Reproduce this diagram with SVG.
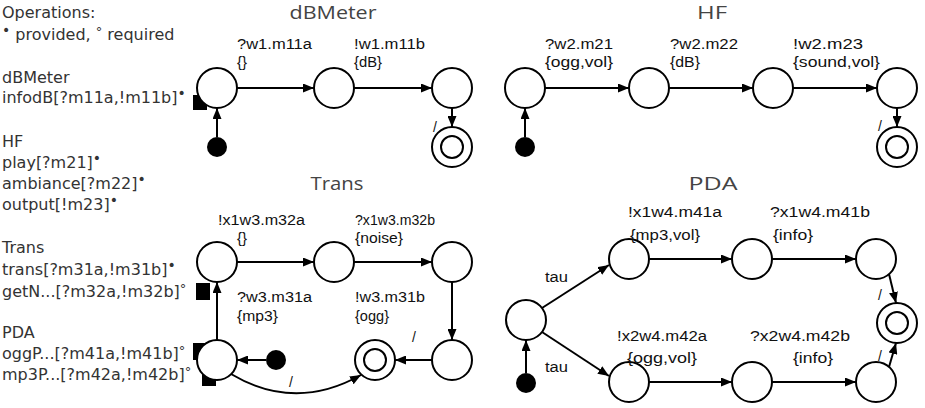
<svg xmlns="http://www.w3.org/2000/svg" width="925" height="408" viewBox="0 0 925 408">
<defs>
<style>
.lt{font-family:"DejaVu Sans",sans-serif;font-size:16px;fill:#333}
.ti{font-family:"Open Sans","DejaVu Sans",sans-serif;font-size:18px;fill:#444}
.lb{font-family:"Liberation Sans",Arial,sans-serif;font-size:14px;fill:#111}
.b{font-size:14px}
.c{font-size:13px}
.st{fill:#fff;stroke:#000;stroke-width:2}
.in{fill:none;stroke:#000;stroke-width:2}
.dot{fill:#000}
.port{fill:#000}
.ed{fill:none;stroke:#000;stroke-width:2;marker-end:url(#ah)}
</style>
<marker id="ah" markerWidth="11" markerHeight="9" refX="11" refY="4.5" orient="auto" markerUnits="userSpaceOnUse">
<path d="M0,0 L11,4.5 L0,9 z" fill="#000"/>
</marker>
</defs>
<rect width="925" height="408" fill="#fff"/>

<g id="legend">
<text class="lt" x="2" y="18">Operations:</text>
<text class="lt" x="2" y="40"><tspan class="b" dy="-5">•</tspan><tspan dy="5"> provided, </tspan><tspan class="c" dy="-4">°</tspan><tspan dy="4"> required</tspan></text>
<text class="lt" x="2" y="83">dBMeter</text>
<text class="lt" x="2" y="103">infodB[?m11a,!m11b]<tspan class="b" dy="-5">•</tspan></text>
<text class="lt" x="2" y="147">HF</text>
<text class="lt" x="2" y="168">play[?m21]<tspan class="b" dy="-5">•</tspan></text>
<text class="lt" x="2" y="189">ambiance[?m22]<tspan class="b" dy="-5">•</tspan></text>
<text class="lt" x="2" y="210">output[!m23]<tspan class="b" dy="-5">•</tspan></text>
<text class="lt" x="2" y="253">Trans</text>
<text class="lt" x="2" y="275">trans[?m31a,!m31b]<tspan class="b" dy="-5">•</tspan></text>
<text class="lt" x="2" y="297">getN...[?m32a,!m32b]<tspan class="c" dy="-4">°</tspan></text>
<text class="lt" x="2" y="338">PDA</text>
<text class="lt" x="2" y="359">oggP...[?m41a,!m41b]<tspan class="c" dy="-4">°</tspan></text>
<text class="lt" x="2" y="380">mp3P...[?m42a,!m42b]<tspan class="c" dy="-4">°</tspan></text>
</g>

<g id="titles">
<text class="ti" x="333" y="19" text-anchor="middle" textLength="87" lengthAdjust="spacingAndGlyphs">dBMeter</text>
<text class="ti" x="712" y="19" text-anchor="middle" textLength="30" lengthAdjust="spacingAndGlyphs">HF</text>
<text class="ti" x="337" y="190" text-anchor="middle" textLength="53" lengthAdjust="spacingAndGlyphs">Trans</text>
<text class="ti" x="713" y="190" text-anchor="middle" textLength="49" lengthAdjust="spacingAndGlyphs">PDA</text>
</g>

<g id="ports">
<rect class="port" x="193" y="95" width="14" height="15"/>
<rect class="port" x="196" y="283" width="14" height="17"/>
<rect class="port" x="193" y="343" width="14" height="17"/>
<rect class="port" x="202" y="370" width="14" height="16"/>
</g>

<!-- dBMeter -->
<g id="d_init"><circle class="dot" cx="217" cy="147" r="10"/></g>
<g id="d_s0"><circle class="st" cx="217" cy="88" r="20"/></g>
<g id="d_s1"><circle class="st" cx="334" cy="88" r="20"/></g>
<g id="d_s2"><circle class="st" cx="452" cy="88" r="20"/></g>
<g id="d_f"><circle class="st" cx="452" cy="147" r="20"/><circle class="in" cx="452" cy="147" r="11"/></g>

<!-- HF -->
<g id="h_init"><circle class="dot" cx="525" cy="147" r="10"/></g>
<g id="h_s0"><circle class="st" cx="525" cy="88" r="20"/></g>
<g id="h_s1"><circle class="st" cx="649" cy="88" r="20"/></g>
<g id="h_s2"><circle class="st" cx="773" cy="88" r="20"/></g>
<g id="h_s3"><circle class="st" cx="897" cy="88" r="20"/></g>
<g id="h_f"><circle class="st" cx="897" cy="147" r="20"/><circle class="in" cx="897" cy="147" r="11"/></g>

<!-- Trans -->
<g id="t_init"><circle class="dot" cx="276" cy="360" r="10"/></g>
<g id="t_s0"><circle class="st" cx="217" cy="360" r="20"/></g>
<g id="t_s1"><circle class="st" cx="217" cy="262" r="20"/></g>
<g id="t_s2"><circle class="st" cx="334" cy="262" r="20"/></g>
<g id="t_s3"><circle class="st" cx="452" cy="262" r="20"/></g>
<g id="t_s4"><circle class="st" cx="452" cy="360" r="20"/></g>
<g id="t_f"><circle class="st" cx="375" cy="360" r="20"/><circle class="in" cx="375" cy="360" r="11"/></g>

<!-- PDA -->
<g id="p_init"><circle class="dot" cx="526" cy="383" r="10"/></g>
<g id="p_s0"><circle class="st" cx="526" cy="320" r="20"/></g>
<g id="p_a1"><circle class="st" cx="629" cy="259" r="20"/></g>
<g id="p_a2"><circle class="st" cx="752" cy="259" r="20"/></g>
<g id="p_a3"><circle class="st" cx="876" cy="259" r="20"/></g>
<g id="p_b1"><circle class="st" cx="629" cy="382" r="20"/></g>
<g id="p_b2"><circle class="st" cx="752" cy="382" r="20"/></g>
<g id="p_b3"><circle class="st" cx="876" cy="382" r="20"/></g>
<g id="p_f"><circle class="st" cx="897" cy="323" r="20"/><circle class="in" cx="897" cy="323" r="11"/></g>

<g id="connectors">
<!-- dBMeter -->
<path class="ed" d="M217,137 L217,108"/>
<path class="ed" d="M237,88 L314,88"/>
<path class="ed" d="M354,88 L432,88"/>
<path class="ed" d="M452,108 L452,127"/>
<text class="lb" x="237" y="49" textLength="75" lengthAdjust="spacingAndGlyphs">?w1.m11a</text>
<text class="lb" x="237" y="67" textLength="10" lengthAdjust="spacingAndGlyphs">{}</text>
<text class="lb" x="354" y="49" textLength="71" lengthAdjust="spacingAndGlyphs">!w1.m11b</text>
<text class="lb" x="354" y="67" textLength="28" lengthAdjust="spacingAndGlyphs">{dB}</text>
<text class="lb" x="433" y="132">/</text>
<!-- HF -->
<path class="ed" d="M525,137 L525,108"/>
<path class="ed" d="M545,88 L629,88"/>
<path class="ed" d="M669,88 L753,88"/>
<path class="ed" d="M793,88 L877,88"/>
<path class="ed" d="M897,108 L897,127"/>
<text class="lb" x="545" y="49" textLength="68" lengthAdjust="spacingAndGlyphs">?w2.m21</text>
<text class="lb" x="545" y="67" textLength="68" lengthAdjust="spacingAndGlyphs">{ogg,vol}</text>
<text class="lb" x="670" y="49" textLength="68" lengthAdjust="spacingAndGlyphs">?w2.m22</text>
<text class="lb" x="670" y="67" textLength="30" lengthAdjust="spacingAndGlyphs">{dB}</text>
<text class="lb" x="793" y="49" textLength="70" lengthAdjust="spacingAndGlyphs">!w2.m23</text>
<text class="lb" x="793" y="67" textLength="87" lengthAdjust="spacingAndGlyphs">{sound,vol}</text>
<text class="lb" x="878" y="131">/</text>
<!-- Trans -->
<path class="ed" d="M266,360 L237,360"/>
<path class="ed" d="M217,340 L217,282"/>
<path class="ed" d="M237,262 L314,262"/>
<path class="ed" d="M354,262 L432,262"/>
<path class="ed" d="M452,282 L452,340"/>
<path class="ed" d="M432,360 L395,360"/>
<path class="ed" d="M231,374 Q295,412 361,375"/>
<text class="lb" x="218" y="225" textLength="87" lengthAdjust="spacingAndGlyphs">!x1w3.m32a</text>
<text class="lb" x="237" y="243" textLength="10" lengthAdjust="spacingAndGlyphs">{}</text>
<text class="lb" x="355" y="225" textLength="80" lengthAdjust="spacingAndGlyphs">?x1w3.m32b</text>
<text class="lb" x="355" y="243" textLength="48" lengthAdjust="spacingAndGlyphs">{noise}</text>
<text class="lb" x="237" y="302" textLength="75" lengthAdjust="spacingAndGlyphs">?w3.m31a</text>
<text class="lb" x="237" y="321" textLength="41" lengthAdjust="spacingAndGlyphs">{mp3}</text>
<text class="lb" x="355" y="302" textLength="70" lengthAdjust="spacingAndGlyphs">!w3.m31b</text>
<text class="lb" x="355" y="321" textLength="34" lengthAdjust="spacingAndGlyphs">{ogg}</text>
<text class="lb" x="412" y="342">/</text>
<text class="lb" x="289" y="387">/</text>
<!-- PDA -->
<path class="ed" d="M526,373 L526,340"/>
<path class="ed" d="M542,308 L609,265"/>
<path class="ed" d="M542,332 L609,376"/>
<path class="ed" d="M649,259 L732,259"/>
<path class="ed" d="M772,259 L856,259"/>
<path class="ed" d="M649,382 L732,382"/>
<path class="ed" d="M772,382 L856,382"/>
<path class="ed" d="M889,274 L896,303"/>
<path class="ed" d="M889,367 L896,343"/>
<text class="lb" x="545" y="282" textLength="23" lengthAdjust="spacingAndGlyphs">tau</text>
<text class="lb" x="545" y="372" textLength="23" lengthAdjust="spacingAndGlyphs">tau</text>
<text class="lb" x="628" y="217" textLength="94" lengthAdjust="spacingAndGlyphs">!x1w4.m41a</text>
<text class="lb" x="630" y="240" textLength="70" lengthAdjust="spacingAndGlyphs">{mp3,vol}</text>
<text class="lb" x="770" y="217" textLength="100" lengthAdjust="spacingAndGlyphs">?x1w4.m41b</text>
<text class="lb" x="773" y="240" textLength="40" lengthAdjust="spacingAndGlyphs">{info}</text>
<text class="lb" x="617" y="341" textLength="90" lengthAdjust="spacingAndGlyphs">!x2w4.m42a</text>
<text class="lb" x="627" y="363" textLength="70" lengthAdjust="spacingAndGlyphs">{ogg,vol}</text>
<text class="lb" x="750" y="341" textLength="100" lengthAdjust="spacingAndGlyphs">?x2w4.m42b</text>
<text class="lb" x="793" y="363" textLength="40" lengthAdjust="spacingAndGlyphs">{info}</text>
<text class="lb" x="878" y="300">/</text>
<text class="lb" x="878" y="361">/</text>
</g>
</svg>
